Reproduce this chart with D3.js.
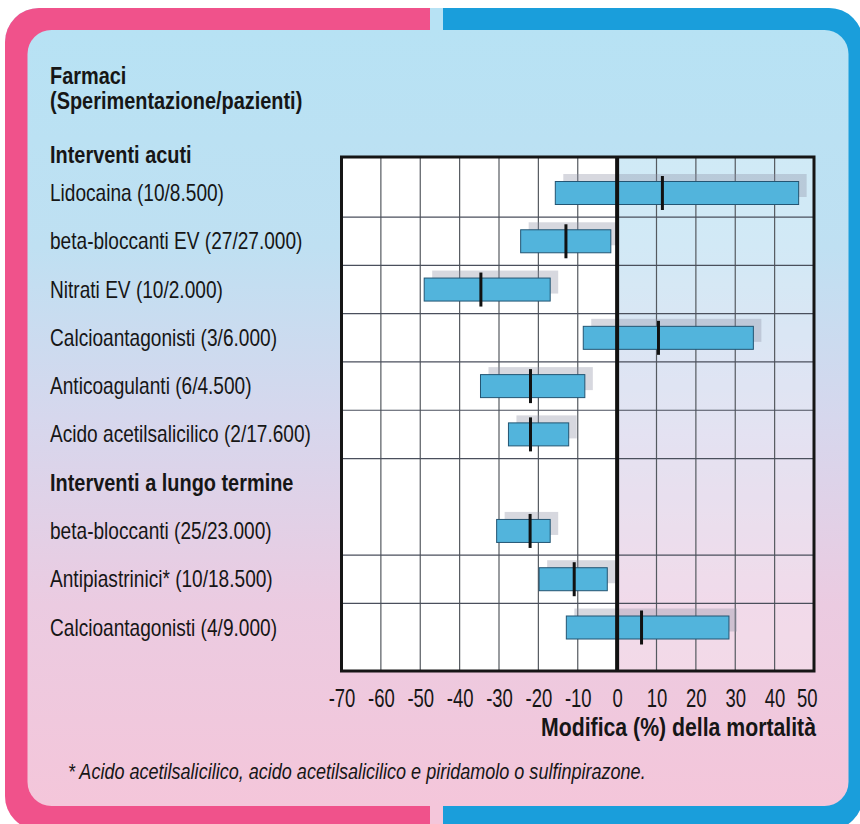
<!DOCTYPE html>
<html>
<head>
<meta charset="utf-8">
<script src="https://cdn.jsdelivr.net/npm/d3@7"></script>
<style>
  body { margin: 0; background: #ffffff; }
  svg { display: block; }
  text { font-family: "Liberation Sans Narrow", "Liberation Sans", Arial, sans-serif; fill: #161616; }
</style>
</head>
<body>
<svg id="chart" width="860" height="824"></svg>
<script>
// ---- data ----------------------------------------------------------------
const titleLines = ["Farmaci", "(Sperimentazione/pazienti)"];
const groupHeads = ["Interventi acuti", "Interventi a lungo termine"];
const drugLabels = [
  "Lidocaina (10/8.500)",
  "beta-bloccanti EV (27/27.000)",
  "Nitrati EV (10/2.000)",
  "Calcioantagonisti (3/6.000)",
  "Anticoagulanti (6/4.500)",
  "Acido acetilsalicilico (2/17.600)",
  "beta-bloccanti (25/23.000)",
  "Antipiastrinici* (10/18.500)",
  "Calcioantagonisti (4/9.000)"
];
const drugGroup  = [0, 0, 0, 0, 0, 0, 1, 1, 1];
const lowValues  = [-15.7, -24.5, -49.0, -8.6, -34.7, -27.6, -30.6, -19.8, -12.9];
const highValues = [46.1, -1.6, -17.0, 34.6, -8.2, -12.3, -17.0, -2.5, 28.4];
const meanValues = [11.5, -13.0, -34.6, 10.5, -22.0, -22.0, -22.1, -10.9, 6.2];
const xTicks = [-70, -60, -50, -40, -30, -20, -10, 0, 10, 20, 30, 40, 50];
const xTitle = "Modifica (%) della mortalità";
const footnote = "* Acido acetilsalicilico, acido acetilsalicilico e piridamolo o sulfinpirazone.";

// ---- layout --------------------------------------------------------------
// Each drug takes one slot; the second group heading takes a slot of its own.
const slots = [];
drugLabels.forEach((label, i) => {
  if (i > 0 && drugGroup[i] !== drugGroup[i - 1]) {
    slots.push({ kind: "head", label: groupHeads[drugGroup[i]] });
  }
  slots.push({ kind: "drug", label, low: lowValues[i], high: highValues[i], mean: meanValues[i] });
});
slots.forEach((s, i) => s.slot = i);

const plot = { left: 341.5, right: 814, top: 157, bottom: 671 };
const x = d3.scaleLinear().domain([-70, 50]).range([plot.left, plot.right]);
const y = d3.scaleLinear().domain([0, slots.length - 1]).range([193, 627.5]);
const barH = 23;
const narrow = 0.83;   // condensed lettering

const svg = d3.select("#chart");
const defs = svg.append("defs");

// soft blue-to-pink wash of the panel
const grad = defs.append("linearGradient")
  .attr("id", "panelWash").attr("gradientUnits", "userSpaceOnUse")
  .attr("x1", 0).attr("y1", 30).attr("x2", 0).attr("y2", 806);
[[0, "#b7e2f4"], [0.28, "#bfe0f2"], [0.5, "#d6d7ed"], [0.74, "#ebcbe1"], [1, "#f4c6da"]]
  .forEach(([o, c]) => grad.append("stop").attr("offset", o).attr("stop-color", c));

defs.append("clipPath").attr("id", "outerClip")
  .append("rect").attr("x", 5).attr("y", 8).attr("width", 858).attr("height", 822).attr("rx", 34);

// ---- frame -----------------------------------------------------------------
const frame = svg.append("g").attr("clip-path", "url(#outerClip)");
frame.append("rect").attr("x", 0).attr("y", 0).attr("width", 860).attr("height", 830).attr("fill", "url(#panelWash)");
frame.append("rect").attr("x", 0).attr("y", 0).attr("width", 430).attr("height", 830).attr("fill", "#f0528b");
frame.append("rect").attr("x", 443).attr("y", 0).attr("width", 420).attr("height", 830).attr("fill", "#1a9edb");
svg.append("rect").attr("x", 27.5).attr("y", 30).attr("width", 821).attr("height", 776)
  .attr("rx", 24).attr("fill", "url(#panelWash)");

// place a condensed text at (px, py)
function place(sel, px, py, sx = narrow) {
  return sel.attr("x", 0).attr("y", 0)
    .attr("transform", (d, i) => `translate(${typeof px === "function" ? px(d, i) : px},${typeof py === "function" ? py(d, i) : py}) scale(${sx},1)`);
}

// ---- titles ----------------------------------------------------------------
place(svg.append("g").selectAll("text").data(titleLines).join("text"), 50, (d, i) => 84 + i * 25)
  .attr("font-size", 24).attr("font-weight", "bold").text(d => d);

place(svg.append("text"), 50, y(0) - 30)
  .attr("font-size", 24).attr("font-weight", "bold").text(groupHeads[0]);

// row labels
place(svg.append("g").selectAll("text").data(slots).join("text"), 50, d => y(d.slot) + 8)
  .attr("font-size", d => d.kind === "head" ? 24 : 23)
  .attr("font-weight", d => d.kind === "head" ? "bold" : "normal")
  .text(d => d.label);

// ---- plot area -------------------------------------------------------------
const g = svg.append("g");
g.append("rect").attr("x", plot.left).attr("y", plot.top)
  .attr("width", x(0) - plot.left).attr("height", plot.bottom - plot.top).attr("fill", "#ffffff");
g.append("rect").attr("x", x(0)).attr("y", plot.top)
  .attr("width", plot.right - x(0)).attr("height", plot.bottom - plot.top)
  .attr("fill", "#ffffff").attr("opacity", 0.3);

// vertical grid
g.append("g").selectAll("line").data(xTicks.slice(1, -1).filter(d => d !== 0)).join("line")
  .attr("x1", d => x(d)).attr("x2", d => x(d))
  .attr("y1", plot.top).attr("y2", plot.bottom)
  .attr("stroke", "#555a60").attr("stroke-width", 1.2);

// horizontal separators between drugs (none between a heading and its first drug)
const seps = [];
for (let i = 0; i < slots.length - 1; i++) {
  if (slots[i].kind !== "head") seps.push(i + 0.5);
}
g.append("g").selectAll("line").data(seps).join("line")
  .attr("x1", plot.left).attr("x2", plot.right)
  .attr("y1", d => y(d)).attr("y2", d => y(d))
  .attr("stroke", "#4a4f5c").attr("stroke-width", 1.2);

// bars: shadow, interval, point estimate
const drugs = slots.filter(s => s.kind === "drug");
g.append("g").selectAll("rect").data(drugs).join("rect")
  .attr("x", d => x(d.low) + 8).attr("y", d => y(d.slot) - barH / 2 - 7.5)
  .attr("width", d => x(d.high) - x(d.low)).attr("height", barH)
  .attr("fill", "#8c90a4").attr("opacity", 0.35);

g.append("g").selectAll("rect").data(drugs).join("rect")
  .attr("x", d => x(d.low)).attr("y", d => y(d.slot) - barH / 2)
  .attr("width", d => x(d.high) - x(d.low)).attr("height", barH)
  .attr("fill", "#52b4dc").attr("stroke", "#235573").attr("stroke-width", 1);

// zero line
g.append("line").attr("x1", x(0)).attr("x2", x(0)).attr("y1", plot.top).attr("y2", plot.bottom)
  .attr("stroke", "#111").attr("stroke-width", 4);

g.append("g").selectAll("line").data(drugs).join("line")
  .attr("x1", d => x(d.mean)).attr("x2", d => x(d.mean))
  .attr("y1", d => y(d.slot) - 17).attr("y2", d => y(d.slot) + 17)
  .attr("stroke", "#111").attr("stroke-width", 3);

// border
g.append("rect").attr("x", plot.left).attr("y", plot.top)
  .attr("width", plot.right - plot.left).attr("height", plot.bottom - plot.top)
  .attr("fill", "none").attr("stroke", "#151515").attr("stroke-width", 3);

// ---- axis ------------------------------------------------------------------
const axis = svg.append("g").attr("transform", `translate(0,${plot.bottom})`)
  .call(d3.axisBottom(x).tickValues(xTicks).tickSize(0).tickFormat(d => String(d)));
axis.select(".domain").remove();
axis.selectAll("text")
  .attr("y", 0).attr("dy", null).attr("x", 0)
  .attr("font-size", 25).attr("fill", "#161616")
  .style("font-family", "'Liberation Sans Narrow', 'Liberation Sans', sans-serif")
  .attr("transform", "translate(0,36) scale(0.74,1)");
axis.selectAll(".tick").filter(d => d === xTicks[xTicks.length - 1]).select("text")
  .attr("text-anchor", "end").attr("transform", "translate(3,36) scale(0.74,1)");

place(svg.append("text"), 816, 736, 0.85)
  .attr("text-anchor", "end").attr("font-size", 25).attr("font-weight", "bold")
  .text(xTitle);

place(svg.append("text"), 68, 779, 0.82)
  .attr("font-size", 22).attr("font-style", "italic")
  .text(footnote);
</script>
</body>
</html>
